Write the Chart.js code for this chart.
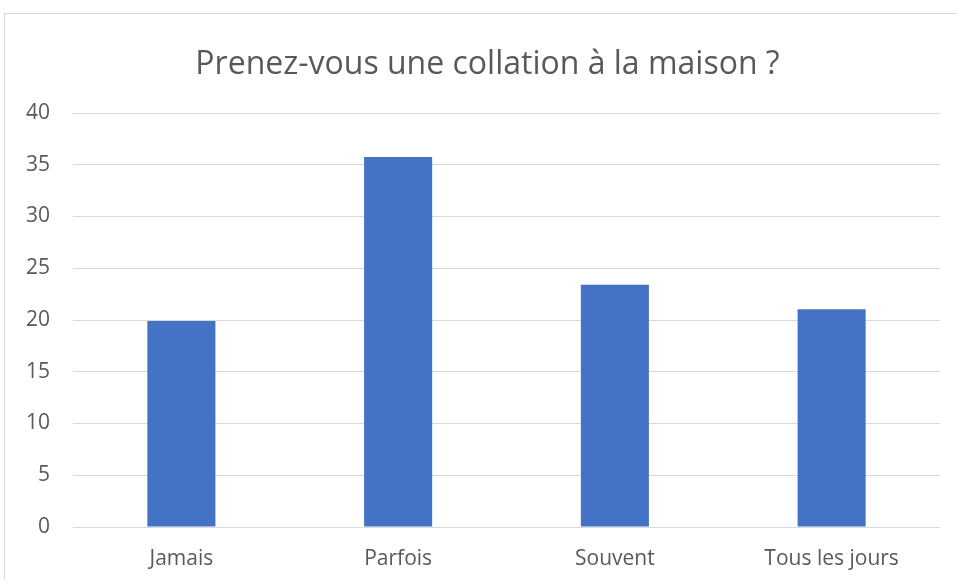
<!DOCTYPE html>
<html><head><meta charset="utf-8">
<script src="https://cdn.jsdelivr.net/npm/chart.js@4"></script>
<style>
html,body{margin:0;padding:0;background:#fff;overflow:hidden;}
#box{position:absolute;left:4px;top:13px;width:960px;height:580px;border-left:1px solid #d9d9d9;border-top:1px solid #d9d9d9;}
canvas{position:absolute;left:0;top:0;}
</style></head>
<body>
<div id="box"><canvas id="c" width="952" height="566"></canvas></div>
<script>
const categories = ["Jamais", "Parfois", "Souvent", "Tous les jours"];
const values = [19.9, 35.75, 23.4, 21.05];
const yTicks = [0, 5, 10, 15, 20, 25, 30, 35, 40];
const titleText = "Prenez-vous une collation à la maison ?";

const fontFam = "'Open Sans', sans-serif";
const titlePlugin = {
  id: 'ctitle',
  afterDraw(chart) {
    const ctx = chart.ctx;
    ctx.save();
    ctx.font = "32px 'Open Sans', sans-serif";
    ctx.fillStyle = '#595959';
    ctx.textAlign = 'center';
    ctx.textBaseline = 'middle';
    ctx.fillText(titleText, 482.5, 51);
    ctx.restore();
  }
};
new Chart(document.getElementById('c'), {
  type: 'bar',
  data: { labels: categories, datasets: [{ data: values, backgroundColor: '#4472c4', categoryPercentage: 1, barPercentage: 0.314 }] },
  options: {
    responsive: false, animation: false,
    layout: { padding: { left: 0, right: 17, top: 99, bottom: 0 } },
    plugins: {
      legend: { display: false }, tooltip: { enabled: false }, title: { display: false }
    },
    scales: {
      x: { grid: { display: false, drawTicks: false }, border: { display: false },
        ticks: { color: '#595959', font: { family: fontFam, size: 21 }, padding: 19 },
        afterFit: s => { s.height = 53; } },
      y: { min: 0, max: 40, grid: { color: '#d9d9d9', drawTicks: false }, border: { display: false },
        afterBuildTicks: s => { s.ticks = yTicks.map(v => ({ value: v })); },
        ticks: { color: '#595959', font: { family: fontFam, size: 21 }, padding: 23 },
        afterFit: s => { s.width = 68; } }
    }
  },
  plugins: [titlePlugin]
});
</script>
</body></html>
